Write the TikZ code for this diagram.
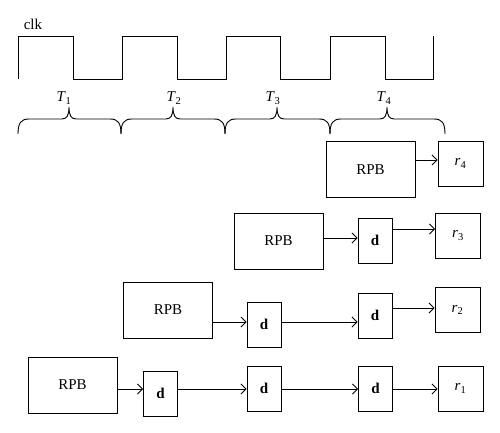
\documentclass[tikz,border=0pt]{standalone}
\usepackage{fontspec}
\setmainfont{Liberation Serif}
\usetikzlibrary{arrows.meta}
\begin{document}
\begin{tikzpicture}[x=1pt,y=-1pt,
  line width=0.9pt,
  every node/.style={font=\fontsize{15}{18}\selectfont},
  box/.style={draw, line width=0.9pt, inner sep=0pt},
  rpb/.style={box, minimum width=89pt, minimum height=56pt},
  dbox/.style={box, minimum width=34pt, minimum height=45pt, font=\fontsize{15}{18}\selectfont\bfseries},
  rbox/.style={box, minimum width=45pt, minimum height=45pt},
  arr/.style={-{Straight Barb[length=5pt,width=10pt]}, line width=0.9pt},
  lbl/.style={anchor=base, inner sep=0pt}]
\useasboundingbox (0,0) rectangle (500,433);
% clock
\draw (18,79) -- (18,36) -- (73,36) -- (73,79) -- (122,79) -- (122,36) -- (177,36) -- (177,79)
  -- (226,79) -- (226,36) -- (280,36) -- (280,79) -- (330,79) -- (330,36) -- (385,36) -- (385,79)
  -- (433,79) -- (433,36);
\node[lbl] (clk) at (33,30) {clk};
% braces
\newcommand\mybrace[3]{%
  \draw (#1,134) .. controls (#1,123) and ({#1+3},119) .. ({#1+11},119) -- ({#3-7},119)
    .. controls ({#3-2},119) and (#3,115) .. (#3,107)
    .. controls (#3,115) and ({#3+2},119) .. ({#3+7},119) -- ({#2-11},119)
    .. controls ({#2-3},119) and (#2,123) .. (#2,134);}
\mybrace{18}{121}{69}
\mybrace{121}{225}{173}
\mybrace{225}{330}{277}
\mybrace{330}{445}{387}
\node[lbl] (T1) at (64,102) {\textit{T}\textsubscript{1}};
\node[lbl] (T2) at (174,102) {\textit{T}\textsubscript{2}};
\node[lbl] (T3) at (273,102) {\textit{T}\textsubscript{3}};
\node[lbl] (T4) at (384,102) {\textit{T}\textsubscript{4}};
% row 4
\node[rpb] (RPB4) at (370.5,169.5) {RPB};
\node[rbox] (r4) at (460.5,163.5) {\textit{r}\textsubscript{4}};
\coordinate (y4) at (0,160);
\draw[arr] (RPB4.east |- y4) -- (r4.west |- y4);
% row 3
\node[rpb] (RPB3) at (278.5,241) {RPB};
\node[dbox] (d3) at (375,240.5) {d};
\node[rbox] (r3) at (458,235.5) {\textit{r}\textsubscript{3}};
\coordinate (y3a) at (0,238);
\coordinate (y3b) at (0,229);
\draw[arr] (RPB3.east |- y3a) -- (d3.west |- y3a);
\draw[arr] (d3.east |- y3b) -- (r3.west |- y3b);
% row 2
\node[rpb] (RPB2) at (168,310) {RPB};
\node[dbox] (d2a) at (264,324.5) {d};
\node[dbox] (d2b) at (375,315.5) {d};
\node[rbox] (r2) at (457.5,310) {\textit{r}\textsubscript{2}};
\coordinate (y2a) at (0,322);
\coordinate (y2b) at (0,308);
\draw[arr] (RPB2.east |- y2a) -- (d2a.west |- y2a);
\draw[arr] (d2a.east |- y2a) -- (d2b.west |- y2a);
\draw[arr] (d2b.east |- y2b) -- (r2.west |- y2b);
% row 1
\node[rpb] (RPB1) at (72.5,385) {RPB};
\node[dbox] (d1a) at (160.5,393.5) {d};
\node[dbox] (d1b) at (264,388.5) {d};
\node[dbox] (d1c) at (375.5,388.5) {d};
\node[rbox] (r1) at (460.5,388.5) {\textit{r}\textsubscript{1}};
\coordinate (y1) at (0,389);
\draw[arr] (RPB1.east |- y1) -- (d1a.west |- y1);
\draw[arr] (d1a.east |- y1) -- (d1b.west |- y1);
\draw[arr] (d1b.east |- y1) -- (d1c.west |- y1);
\draw[arr] (d1c.east |- y1) -- (r1.west |- y1);
\end{tikzpicture}
\end{document}
